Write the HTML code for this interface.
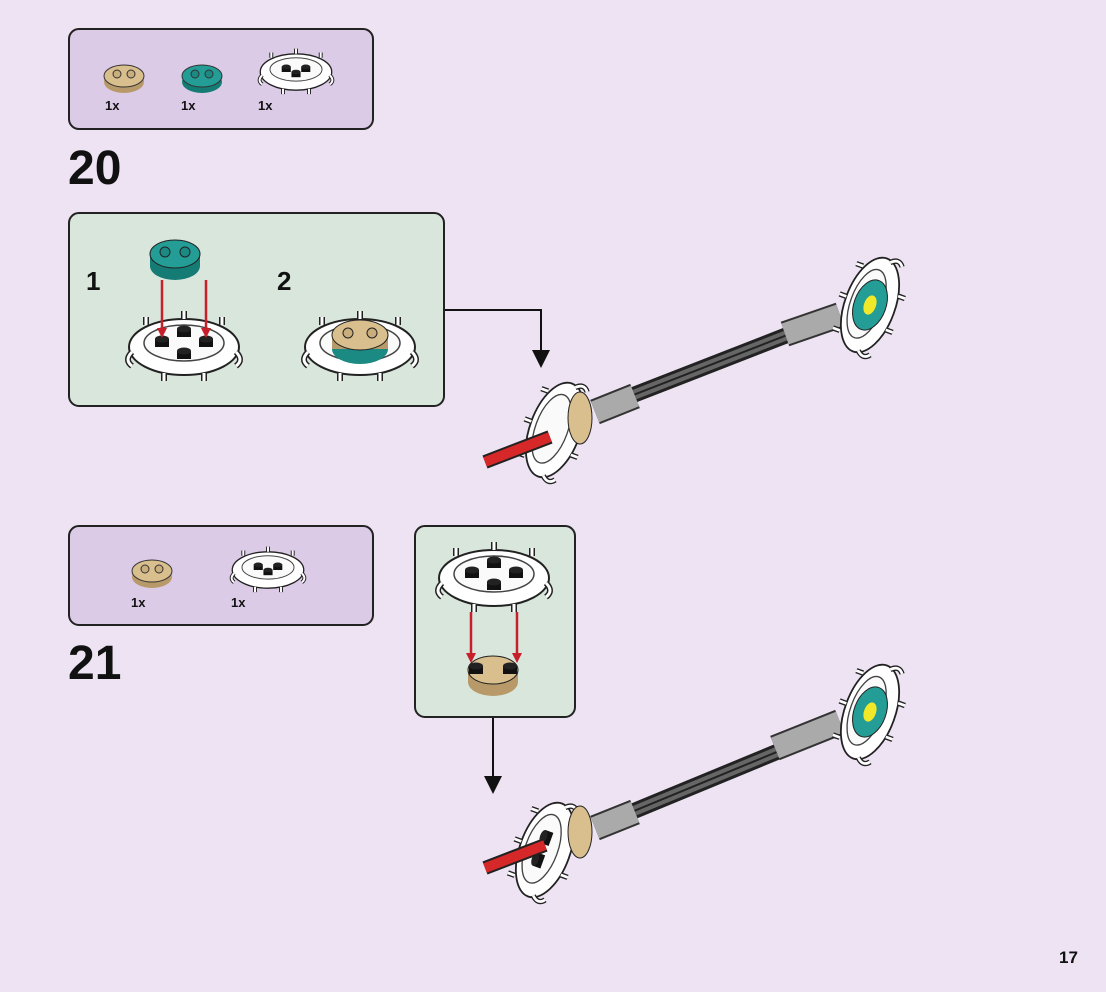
<!DOCTYPE html>
<html><head><meta charset="utf-8"><style>
html,body{margin:0;padding:0;background:#ede3f2;}
svg{display:block}
text{font-family:"Liberation Sans",sans-serif;font-weight:bold;fill:#111}
</style></head><body>
<svg width="1106" height="992" viewBox="0 0 1106 992" xmlns="http://www.w3.org/2000/svg">
<rect width="1106" height="992" fill="#ede3f2"/>
<defs>
<g id="ring">
  <ellipse cx="0" cy="0" rx="55" ry="28" fill="#fff" stroke="#222" stroke-width="2"/>
  <ellipse cx="0" cy="-4" rx="40" ry="18" fill="#fafafa" stroke="#444" stroke-width="1.5"/>
  <path d="M-52,5 q-8,8 0,14 M52,5 q8,8 0,14 M-20,26 v8 M20,26 v8 M-38,-22 v-8 M38,-22 v-8 M0,-28 v-8" stroke="#222" stroke-width="6" fill="none"/>
  <path d="M-52,5 q-8,8 0,14 M52,5 q8,8 0,14 M-20,26 v8 M20,26 v8 M-38,-22 v-8 M38,-22 v-8 M0,-28 v-8" stroke="#fff" stroke-width="3" fill="none"/>
</g>
<g id="stud"><rect x="-7" y="-6" width="14" height="8" fill="#111"/><ellipse cx="0" cy="-6" rx="7" ry="3.5" fill="#222"/></g>
</defs>

<!-- Box 1 -->
<rect x="69" y="29" width="304" height="100" rx="10" fill="#dccbe6" stroke="#222" stroke-width="2"/>
<g transform="translate(124,78)"><ellipse cx="0" cy="4" rx="20" ry="11" fill="#b89a6a"/><ellipse cx="0" cy="-2" rx="20" ry="11" fill="#d9bf8e" stroke="#333"/><circle cx="-7" cy="-4" r="4" fill="#c9ad7c" stroke="#333"/><circle cx="7" cy="-4" r="4" fill="#c9ad7c" stroke="#333"/></g>
<g transform="translate(202,78)"><ellipse cx="0" cy="4" rx="20" ry="11" fill="#157b75"/><ellipse cx="0" cy="-2" rx="20" ry="11" fill="#239d95" stroke="#333"/><circle cx="-7" cy="-4" r="4" fill="#1a8a83" stroke="#333"/><circle cx="7" cy="-4" r="4" fill="#1a8a83" stroke="#333"/></g>
<g transform="translate(296,72) scale(0.65)"><use href="#ring"/><use href="#stud" x="-15" y="-2"/><use href="#stud" x="15" y="-2"/><use href="#stud" x="0" y="6"/></g>
<text x="105" y="110" font-size="13">1x</text>
<text x="181" y="110" font-size="13">1x</text>
<text x="258" y="110" font-size="13">1x</text>

<text x="68" y="184" font-size="48">20</text>

<!-- Box 2 -->
<rect x="69" y="213" width="375" height="193" rx="10" fill="#d9e6dc" stroke="#222" stroke-width="2"/>
<text x="86" y="290" font-size="26">1</text>
<text x="277" y="290" font-size="26">2</text>
<g transform="translate(184,347)"><use href="#ring"/><use href="#stud" x="-22" y="-2"/><use href="#stud" x="22" y="-2"/><use href="#stud" x="0" y="10"/><use href="#stud" x="0" y="-12"/></g>
<g transform="translate(175,258)"><ellipse cx="0" cy="8" rx="25" ry="14" fill="#157b75"/><rect x="-25" y="-4" width="50" height="12" fill="#157b75"/><ellipse cx="0" cy="-4" rx="25" ry="14" fill="#239d95" stroke="#222"/><circle cx="-10" cy="-6" r="5" fill="#1a8a83" stroke="#222"/><circle cx="10" cy="-6" r="5" fill="#1a8a83" stroke="#222"/></g>
<path d="M162,280 V330 M206,280 V330" stroke="#c8202a" stroke-width="2.5"/>
<path d="M157,328 l5,10 l5,-10z M201,328 l5,10 l5,-10z" fill="#c8202a"/>
<g transform="translate(360,347)"><use href="#ring"/><ellipse cx="0" cy="2" rx="28" ry="15" fill="#1a8a83"/><rect x="-28" y="-12" width="56" height="14" fill="#b89a6a"/><ellipse cx="0" cy="-12" rx="28" ry="15" fill="#d9bf8e" stroke="#222"/><circle cx="-12" cy="-14" r="5" fill="#c9ad7c" stroke="#222"/><circle cx="12" cy="-14" r="5" fill="#c9ad7c" stroke="#222"/></g>

<path d="M445,310 H541 V352" stroke="#111" stroke-width="2" fill="none"/>
<path d="M532,350 l9,18 l9,-18z" fill="#111"/>

<!-- Assembly 1 -->
<path d="M600,408 L800,330" stroke="#222" stroke-width="16"/>
<path d="M600,408 L800,330" stroke="#666" stroke-width="10"/>
<path d="M600,408 L800,330" stroke="#222" stroke-width="2"/>
<path d="M595,412 L635,396 M785,334 L840,315" stroke="#333" stroke-width="26"/>
<path d="M595,412 L635,396 M785,334 L840,315" stroke="#aaa" stroke-width="22"/>
<g transform="translate(870,305) rotate(-70)"><use href="#ring" transform="scale(0.9)"/><ellipse cx="0" cy="0" rx="26" ry="16" fill="#239d95" stroke="#222"/><ellipse cx="0" cy="0" rx="10" ry="6" fill="#f2e82a"/></g>
<g transform="translate(555,430) rotate(-70)"><use href="#ring" transform="scale(0.9)"/></g>
<ellipse cx="580" cy="418" rx="12" ry="26" fill="#d9bf8e" stroke="#222"/>
<path d="M485,462 L550,437" stroke="#222" stroke-width="14"/>
<path d="M485,462 L550,437" stroke="#d62828" stroke-width="10"/>

<!-- Box 3 -->
<rect x="69" y="526" width="304" height="99" rx="10" fill="#dccbe6" stroke="#222" stroke-width="2"/>
<g transform="translate(152,573)"><ellipse cx="0" cy="4" rx="20" ry="11" fill="#b89a6a"/><ellipse cx="0" cy="-2" rx="20" ry="11" fill="#d9bf8e" stroke="#333"/><circle cx="-7" cy="-4" r="4" fill="#c9ad7c" stroke="#333"/><circle cx="7" cy="-4" r="4" fill="#c9ad7c" stroke="#333"/></g>
<g transform="translate(268,570) scale(0.65)"><use href="#ring"/><use href="#stud" x="-15" y="-2"/><use href="#stud" x="15" y="-2"/><use href="#stud" x="0" y="6"/></g>
<text x="131" y="607" font-size="13">1x</text>
<text x="231" y="607" font-size="13">1x</text>

<text x="68" y="679" font-size="48">21</text>

<!-- Box 4 -->
<rect x="415" y="526" width="160" height="191" rx="10" fill="#d9e6dc" stroke="#222" stroke-width="2"/>
<g transform="translate(494,578)"><use href="#ring"/><use href="#stud" x="-22" y="-2"/><use href="#stud" x="22" y="-2"/><use href="#stud" x="0" y="10"/><use href="#stud" x="0" y="-12"/></g>
<g transform="translate(493,674)"><ellipse cx="0" cy="8" rx="25" ry="14" fill="#b89a6a"/><rect x="-25" y="-4" width="50" height="12" fill="#b89a6a"/><ellipse cx="0" cy="-4" rx="25" ry="14" fill="#d9bf8e" stroke="#222"/><use href="#stud" x="-17" y="-2"/><use href="#stud" x="17" y="-2"/></g>
<path d="M471,612 V655 M517,612 V655" stroke="#c8202a" stroke-width="2.5"/>
<path d="M466,653 l5,10 l5,-10z M512,653 l5,10 l5,-10z" fill="#c8202a"/>

<path d="M493,718 V778" stroke="#111" stroke-width="2"/>
<path d="M484,776 l9,18 l9,-18z" fill="#111"/>

<!-- Assembly 2 -->
<path d="M600,825 L830,730" stroke="#222" stroke-width="16"/>
<path d="M600,825 L830,730" stroke="#666" stroke-width="10"/>
<path d="M600,825 L830,730" stroke="#222" stroke-width="2"/>
<path d="M595,828 L635,812 M775,748 L840,722" stroke="#333" stroke-width="26"/>
<path d="M595,828 L635,812 M775,748 L840,722" stroke="#aaa" stroke-width="22"/>
<g transform="translate(870,712) rotate(-70)"><use href="#ring" transform="scale(0.9)"/><ellipse cx="0" cy="0" rx="26" ry="16" fill="#239d95" stroke="#222"/><ellipse cx="0" cy="0" rx="10" ry="6" fill="#f2e82a"/></g>
<g transform="translate(545,850) rotate(-70)"><use href="#ring" transform="scale(0.9)"/><use href="#stud" x="-12" y="0"/><use href="#stud" x="12" y="0"/></g>
<ellipse cx="580" cy="832" rx="12" ry="26" fill="#d9bf8e" stroke="#222"/>
<path d="M485,868 L545,845" stroke="#222" stroke-width="14"/>
<path d="M485,868 L545,845" stroke="#d62828" stroke-width="10"/>

<text x="1059" y="963" font-size="17">17</text>
</svg>
</body></html>
